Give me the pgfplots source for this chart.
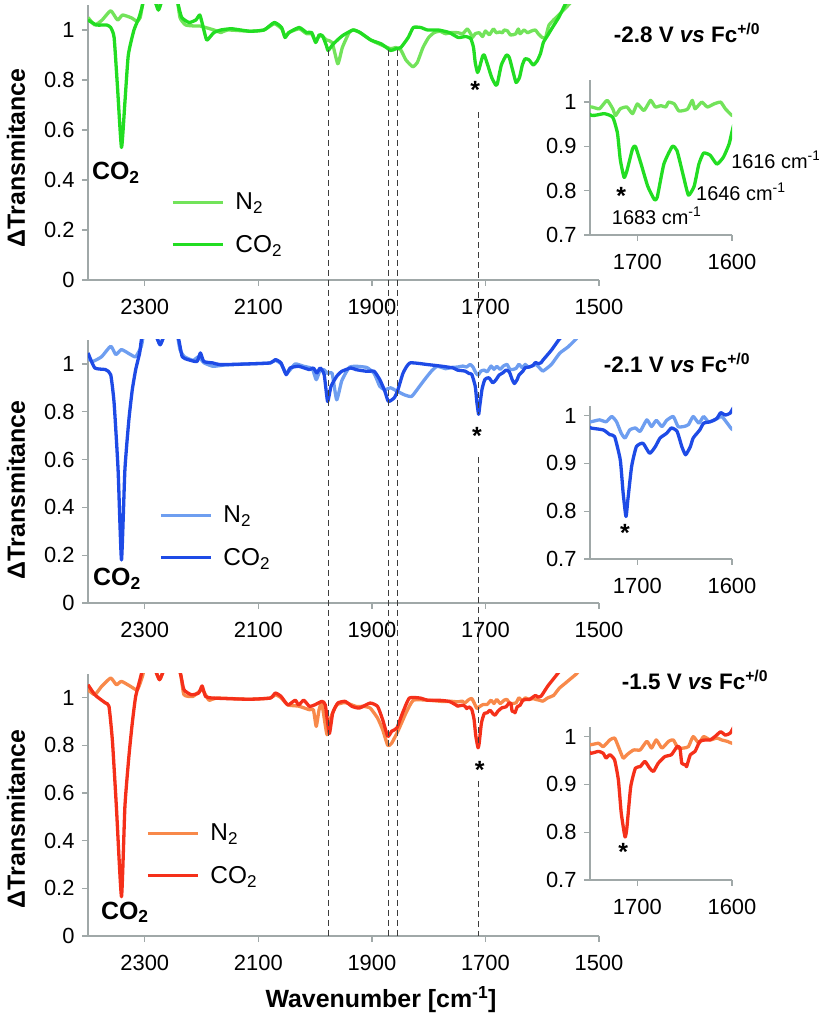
\documentclass[border=0pt]{standalone}
\usepackage{pgfplots}
\pgfplotsset{compat=1.18}
\usepackage{pgfplotstable}
\usepackage{fontspec}
\setmainfont{Liberation Sans}
\definecolor{axgray}{HTML}{A0A8A8}
\definecolor{gN}{HTML}{72E35A}
\definecolor{gC}{HTML}{22DD22}
\definecolor{bN}{HTML}{6E9EF0}
\definecolor{bC}{HTML}{1E4BE6}
\definecolor{rN}{HTML}{F8894A}
\definecolor{rC}{HTML}{F5301A}
\definecolor{dashc}{HTML}{3C3C3C}
\newcommand\tickfont{\fontsize{22}{25}\selectfont}
\newcommand\labfont{\fontsize{25}{28}\selectfont}
\newcommand\titfont{\fontsize{22.5}{26}\selectfont}
\newcommand\legfont{\fontsize{24.5}{28}\selectfont}
\newcommand\annfont{\fontsize{20}{23}\selectfont}

\pgfplotstableread{
x y
2400 1.05
2388 1.02
2375 1.04
2360 1.077
2348 1.04
2339 1.06
2323 1.048
2314 1.035
2308 1.05
2300 1.15
2290 1.2
2282 1.13
2276 1.08
2270 1.13
2262 1.2
2245 1.15
2238 1.05
2228 1.02
2212 1.016
2203 1.016
2193 1.01
2178 1.0
2166 0.99
2154 1.0
2115 0.995
2090 1.0
2072 1.025
2059 1.005
2053 0.975
2046 0.99
2028 1.005
2015 0.985
2006 0.985
1999 0.955
1993 0.975
1987 0.975
1980 0.96
1970 0.95
1960 0.865
1952 0.93
1940 0.99
1933 1.0
1921 0.99
1902 0.96
1883 0.94
1867 0.925
1858 0.93
1849 0.92
1840 0.88
1828 0.853
1820 0.87
1810 0.93
1800 0.97
1790 0.99
1780 0.995
1770 0.985
1760 0.99
1748 0.989
1740 0.985
1732 1.004
1726 0.985
1723 0.97
1718 0.985
1711 0.989
1705 0.974
1700 0.996
1693 0.981
1686 1.004
1681 0.989
1675 0.992
1670 0.989
1667 1.0
1661 0.996
1656 0.98
1647 0.984
1642 1.004
1639 0.985
1632 1.0
1626 0.989
1619 0.996
1612 1.0
1607 0.985
1600 0.97
1594 0.97
1588 1.02
1571 1.06
1558 1.09
1546 1.12
}\gNtab

\pgfplotstableread{
x y
2400 1.04
2385 1.02
2367 1.02
2360 1.01
2354 0.97
2348 0.77
2341 0.53
2335 0.71
2329 0.90
2319 1.00
2310 1.05
2304 1.10
2296 1.2
2284 1.13
2276 1.08
2268 1.13
2256 1.2
2245 1.14
2241 1.10
2235 1.05
2222 1.03
2210 1.04
2203 1.06
2197 1.01
2191 0.96
2184 0.975
2178 0.99
2166 1.00
2147 1.005
2115 0.995
2090 1.00
2072 1.03
2059 1.01
2053 0.97
2046 0.99
2028 1.01
2015 0.99
2006 0.99
1999 0.95
1993 0.98
1987 0.977
1980 0.937
1977 0.918
1968 0.944
1952 0.977
1933 1.00
1921 0.99
1902 0.96
1883 0.944
1867 0.918
1858 0.925
1849 0.93
1836 0.97
1827 1.01
1814 1.01
1802 1.0
1783 1.0
1764 0.99
1748 0.97
1735 0.974
1726 0.966
1721 0.93
1718 0.87
1714 0.83
1711 0.845
1705 0.895
1702 0.90
1696 0.86
1689 0.81
1682 0.78
1679 0.785
1672 0.86
1663 0.90
1658 0.89
1651 0.83
1646 0.79
1640 0.81
1635 0.86
1630 0.885
1623 0.88
1616 0.86
1609 0.876
1603 0.906
1598 0.95
1590 0.98
1582 1.01
1571 1.05
1560 1.10
1550 1.15
}\gCtab

\pgfplotstableread{
x y
2400 1.025
2392 1.01
2376 1.03
2360 1.074
2351 1.039
2341 1.06
2325 1.039
2316 1.03
2306 1.074
2300 1.15
2288 1.2
2280 1.12
2273 1.08
2266 1.12
2258 1.2
2245 1.15
2238 1.06
2230 1.03
2215 1.015
2205 1.03
2196 1.005
2180 0.99
2160 0.995
2117 1.0
2079 1.004
2070 1.015
2060 1.0
2051 0.96
2044 0.975
2035 1.0
2020 0.99
2005 0.98
1998 0.934
1991 0.975
1984 0.975
1978 0.96
1970 0.96
1962 0.85
1953 0.93
1940 0.985
1928 0.99
1909 0.985
1896 0.96
1886 0.906
1877 0.892
1867 0.90
1855 0.885
1842 0.87
1830 0.864
1818 0.90
1805 0.941
1795 0.97
1785 0.99
1770 0.98
1760 0.985
1749 0.987
1740 0.991
1733 0.987
1727 0.998
1722 0.987
1717 0.963
1713 0.953
1708 0.97
1702 0.974
1697 0.967
1690 0.991
1685 0.977
1680 0.99
1674 0.977
1669 0.99
1662 0.998
1657 0.977
1651 0.977
1646 0.981
1641 0.998
1635 0.984
1630 0.998
1625 0.987
1619 0.99
1611 0.998
1605 0.984
1599 0.97
1590 0.985
1583 1.0
1569 1.045
1555 1.07
1542 1.10
1535 1.12
}\bNtab

\pgfplotstableread{
x y
2400 1.046
2388 0.983
2369 0.976
2360 0.955
2354 0.836
2347 0.557
2341 0.18
2335 0.557
2328 0.766
2322 0.892
2316 0.976
2309 1.046
2306 1.10
2298 1.2
2282 1.13
2273 1.08
2264 1.13
2250 1.2
2240 1.10
2234 1.03
2224 1.018
2208 1.01
2202 1.046
2196 1.01
2180 1.004
2167 0.997
2117 1.0
2079 1.004
2070 1.018
2060 1.004
2051 0.955
2044 0.983
2029 0.99
2010 0.976
2003 0.983
1997 0.962
1991 0.983
1984 0.955
1978 0.843
1972 0.906
1962 0.948
1953 0.969
1937 0.983
1928 0.976
1909 0.969
1896 0.969
1886 0.934
1877 0.885
1871 0.843
1861 0.857
1855 0.885
1845 0.962
1833 1.004
1801 0.997
1776 0.99
1757 0.983
1749 0.974
1736 0.97
1729 0.96
1724 0.956
1718 0.907
1715 0.838
1712 0.789
1710 0.824
1706 0.894
1701 0.935
1694 0.942
1687 0.921
1681 0.935
1676 0.953
1669 0.963
1664 0.974
1658 0.967
1653 0.935
1649 0.918
1644 0.935
1641 0.953
1634 0.97
1630 0.984
1623 0.987
1616 0.994
1612 1.006
1607 1.001
1602 1.005
1599 1.015
1590 1.04
1583 1.06
1571 1.10
1560 1.13
}\bCtab

\pgfplotstableread{
x y
2400 1.034
2388 1.013
2376 1.048
2360 1.083
2350 1.055
2341 1.069
2325 1.048
2313 1.034
2303 1.10
2296 1.2
2282 1.12
2274 1.076
2266 1.12
2252 1.2
2237 1.10
2231 1.013
2215 1.006
2199 1.034
2187 0.99
2174 0.999
2117 0.994
2079 0.999
2070 1.013
2060 1.0
2048 0.97
2029 0.965
2010 0.95
2003 0.95
1998 0.88
1993 0.95
1988 0.975
1979 0.845
1972 0.92
1962 0.97
1947 0.98
1928 0.964
1915 0.964
1903 0.957
1890 0.915
1881 0.866
1872 0.80
1865 0.81
1853 0.866
1840 0.936
1827 0.99
1802 0.99
1777 0.985
1758 0.985
1749 0.983
1741 0.986
1736 0.979
1729 0.993
1724 0.997
1720 0.979
1715 0.955
1711 0.962
1704 0.972
1697 0.972
1690 0.99
1685 0.976
1680 0.993
1674 0.976
1667 0.99
1662 0.993
1657 0.976
1651 0.976
1646 0.979
1641 1.0
1635 0.986
1630 1.0
1623 0.993
1616 0.997
1611 0.993
1605 0.99
1599 0.986
1590 1.0
1580 1.01
1570 1.04
1560 1.06
1550 1.08
1540 1.10
1533 1.12
}\rNtab

\pgfplotstableread{
x y
2400 1.055
2388 1.013
2376 0.99
2369 0.978
2363 0.964
2357 0.82
2350 0.543
2341 0.165
2335 0.543
2328 0.753
2322 0.894
2316 1.006
2306 1.10
2298 1.2
2282 1.12
2274 1.076
2266 1.12
2250 1.2
2237 1.10
2231 1.034
2218 1.013
2205 1.02
2199 1.05
2193 1.006
2180 0.999
2117 0.994
2079 0.999
2070 1.02
2060 1.006
2048 0.97
2035 0.99
2029 0.97
2020 0.99
2010 0.964
2001 0.97
1988 0.985
1982 0.97
1975 0.85
1969 0.936
1960 0.978
1947 0.985
1935 0.964
1922 0.957
1903 0.978
1890 0.964
1881 0.908
1872 0.838
1865 0.86
1856 0.873
1846 0.936
1834 0.999
1815 0.999
1802 0.99
1783 0.99
1764 0.985
1752 0.97
1749 0.965
1741 0.969
1736 0.965
1733 0.955
1729 0.962
1724 0.951
1720 0.909
1717 0.84
1713 0.79
1711 0.81
1707 0.895
1702 0.934
1697 0.937
1692 0.948
1687 0.934
1683 0.927
1678 0.944
1671 0.958
1664 0.962
1658 0.979
1655 0.976
1653 0.944
1649 0.941
1648 0.937
1644 0.962
1639 0.969
1634 0.99
1628 0.993
1623 0.993
1618 1.0
1612 1.01
1607 1.003
1602 1.007
1599 1.017
1590 1.05
1580 1.08
1570 1.11
1560 1.14
}\rCtab

\pgfplotsset{
  common/.style={
    scale only axis,
    x dir=reverse,
    clip mode=individual,
    axis x line*=bottom, axis y line*=left,
    axis line style={-, draw=axgray, line width=1.3bp},
    every outer x axis line/.append style={-},
    every outer y axis line/.append style={-},
    every inner x axis line/.append style={-},
    every inner y axis line/.append style={-},
    tick style={draw=axgray, line width=1.3bp},
    tick align=outside,
    major tick length=6bp,
    minor tick num=0,
    /pgf/number format/assume math mode=true,
    /pgf/number format/1000 sep={},
    xticklabel style={font=\tickfont, yshift=-10bp},
    yticklabel style={font=\tickfont, xshift=-4bp},
    every axis plot/.append style={line width=3.3bp, line join=round, smooth, tension=0.3},
  },
  mainax/.style={common, width=511bp, xmin=1500, xmax=2400, ymin=0, ymax=1.1,
    xtick={1500,1700,1900,2100,2300}, ytick={0,0.2,0.4,0.6,0.8,1},
    legend image code/.code={\draw[##1] (0bp,0bp) -- (50bp,0bp);},
    legend cell align=left,
    legend style={draw=none, fill=none, inner sep=0pt, row sep=22bp, column sep=10bp,
      font=\legfont, anchor=west, nodes={inner sep=1bp}},
  },
  insax/.style={common, width=142bp, xmin=1600, xmax=1750, ymin=0.7,
    xtick={1600,1700}, ytick={0.7,0.8,0.9,1}},
}

\begin{document}
\begin{tikzpicture}
\path[use as bounding box] (0bp,0bp) rectangle (819bp,1015bp);

% ---------- panel 1 ----------
\begin{axis}[mainax, at={(88bp,735bp)}, anchor=south west, height=275bp,
  legend style={at={(axis cs:2254,0.226)}}]
\addplot[gN] table {\gNtab}; \addlegendentry{N\textsubscript{2}}
\addplot[gC] table {\gCtab}; \addlegendentry{CO\textsubscript{2}}
\node[font=\bfseries\labfont] at (axis cs:2351,0.43) {CO\textsubscript{2}};
\node[font=\bfseries\labfont, yshift=-5bp] at (axis cs:1718,0.78) {*};
\coordinate (a1) at (axis cs:1977,0.92);
\coordinate (a2) at (axis cs:1871,0.92);
\coordinate (a3) at (axis cs:1855,0.92);
\coordinate (a4) at (axis cs:1712,0.67);
\end{axis}
\begin{axis}[insax, at={(590bp,780bp)}, anchor=south west, height=155bp, ymax=1.05]
\addplot[gN] table {\gNtab};
\addplot[gC] table {\gCtab};
\node[font=\bfseries\labfont, yshift=-5bp] at (axis cs:1717,0.80) {*};
\node[font=\annfont, anchor=west, inner sep=0pt] at (axis cs:1601,0.87) {1616 cm\textsuperscript{-1}};
\node[font=\annfont, anchor=west, inner sep=0pt] at (axis cs:1638,0.797) {1646 cm\textsuperscript{-1}};
\node[font=\annfont, anchor=west, inner sep=0pt] at (axis cs:1727,0.743) {1683 cm\textsuperscript{-1}};
\end{axis}

% ---------- panel 2 ----------
\begin{axis}[mainax, at={(88bp,412bp)}, anchor=south west, height=263bp,
  legend style={at={(axis cs:2275,0.278)}}]
\addplot[bN] table {\bNtab}; \addlegendentry{N\textsubscript{2}}
\addplot[bC] table {\bCtab}; \addlegendentry{CO\textsubscript{2}}
\node[font=\bfseries\labfont] at (axis cs:2349,0.10) {CO\textsubscript{2}};
\node[font=\bfseries\labfont, yshift=-5bp] at (axis cs:1715,0.72) {*};
\coordinate (b4t) at (axis cs:1712,0.79);
\coordinate (b4b) at (axis cs:1712,0.61);
\end{axis}
\begin{axis}[insax, at={(590bp,456bp)}, anchor=south west, height=153bp, ymax=1.02]
\addplot[bN] table {\bNtab};
\addplot[bC] table {\bCtab};
\node[font=\bfseries\labfont, yshift=-5bp] at (axis cs:1713,0.765) {*};
\end{axis}

% ---------- panel 3 ----------
\begin{axis}[mainax, at={(88bp,79bp)}, anchor=south west, height=262bp,
  legend style={at={(axis cs:2298,0.342)}}]
\addplot[rN] table {\rNtab}; \addlegendentry{N\textsubscript{2}}
\addplot[rC] table {\rCtab}; \addlegendentry{CO\textsubscript{2}}
\node[font=\bfseries\labfont] at (axis cs:2335,0.10) {CO\textsubscript{2}};
\node[font=\bfseries\labfont, yshift=-5bp] at (axis cs:1710,0.72) {*};
\coordinate (c1) at (axis cs:1977,0);
\coordinate (c2) at (axis cs:1871,0);
\coordinate (c3) at (axis cs:1855,0);
\coordinate (c4t) at (axis cs:1712,0.80);
\coordinate (c4b) at (axis cs:1712,0.65);
\coordinate (c4) at (axis cs:1712,0);
\end{axis}
\begin{axis}[insax, at={(590bp,135bp)}, anchor=south west, height=153bp, ymax=1.02]
\addplot[rN] table {\rNtab};
\addplot[rC] table {\rCtab};
\node[font=\bfseries\labfont, yshift=-5bp] at (axis cs:1715,0.77) {*};
\end{axis}

% ---------- dashed guide lines ----------
\begin{scope}[draw=dashc, line width=1.2bp, dash pattern=on 6bp off 4bp]
\draw (a1) -- (c1);
\draw (a2) -- (c2);
\draw (a3) -- (c3);
\draw (a4) -- (b4t);
\draw (b4b) -- (c4t);
\draw (c4b) -- (c4);
\end{scope}

% ---------- titles and labels ----------
\node[font=\bfseries\titfont] at (687bp,982bp) {-2.8 V \textit{vs} Fc\textsuperscript{+/0}};
\node[font=\bfseries\titfont] at (677bp,652bp) {-2.1 V \textit{vs} Fc\textsuperscript{+/0}};
\node[font=\bfseries\titfont] at (695bp,335bp) {-1.5 V \textit{vs} Fc\textsuperscript{+/0}};
\node[font=\bfseries\labfont, rotate=90] at (16bp,857bp) {ΔTransmitance};
\node[font=\bfseries\labfont, rotate=90] at (16bp,525bp) {ΔTransmitance};
\node[font=\bfseries\labfont, rotate=90] at (16bp,196bp) {ΔTransmitance};
\node[font=\bfseries\labfont] at (381bp,15bp) {Wavenumber [cm\textsuperscript{-1}]};
\end{tikzpicture}
\end{document}
